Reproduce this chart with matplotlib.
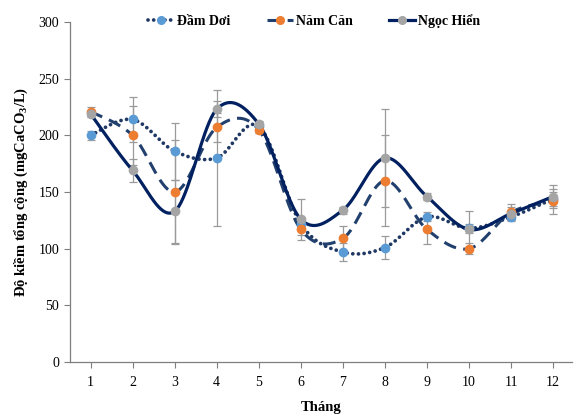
import numpy as np
import matplotlib
matplotlib.use("Agg")
import matplotlib.pyplot as plt
from matplotlib.lines import Line2D

plt.rcParams['font.family'] = ['Liberation Serif', 'DejaVu Serif']
plt.rcParams['mathtext.fontset'] = 'custom'
plt.rcParams['mathtext.rm'] = 'Liberation Serif:bold'
plt.rcParams['mathtext.bf'] = 'Liberation Serif:bold'

months = list(range(1, 13))
dam_doi = [200, 214, 186, 180, 208, 122, 97, 101, 128, 118, 128, 144]
nam_can = [221, 200, 150, 207, 205, 117, 109, 160, 117, 100, 132, 142]
ngoc_hien = [219, 169, 133, 223, 210, 126, 134, 180, 146, 117, 131, 146]
dam_doi_err = [4, 20, 25, 60, 3, 4, 8, 10, 4, 4, 4, 6]
nam_can_err = [4, 26, 46, 13, 3, 5, 11, 40, 13, 5, 7, 11]
ngoc_hien_err = [3, 10, 28, 7, 3, 18, 3, 43, 3, 16, 6, 10]
labels = ['Đầm Dơi', 'Năm Căn', 'Ngọc Hiển']


def excel_smooth(x, y, n=40):
    x = np.asarray(x, float)
    y = np.asarray(y, float)
    P = np.column_stack([x, y])
    out = [P[0]]
    m = len(P)
    for i in range(m - 1):
        p0 = P[i - 1] if i > 0 else P[i]
        p1 = P[i]
        p2 = P[i + 1]
        p3 = P[i + 2] if i + 2 < m else P[i + 1]
        c1 = p1 + (p2 - p0) / 6.0
        c2 = p2 - (p3 - p1) / 6.0
        t = np.linspace(0, 1, n)[1:, None]
        seg = ((1 - t) ** 3) * p1 + 3 * ((1 - t) ** 2) * t * c1 + 3 * (1 - t) * t ** 2 * c2 + t ** 3 * p2
        out.extend(seg)
    out = np.array(out)
    return out[:, 0], out[:, 1]


fig = plt.figure(figsize=(5.76, 4.18), dpi=100)
ax = fig.add_axes([69.5 / 576, 56 / 418, (572 - 69.5) / 576, 340 / 418])

series = [
    (dam_doi, dam_doi_err, '#1F3864', (0, (0.01, 1.5)), '#5B9BD5', 2.7, 'round'),
    (nam_can, nam_can_err, '#22406E', (0, (4.2, 2.4)), '#ED7D31', 2.2, 'butt'),
    (ngoc_hien, ngoc_hien_err, '#002060', '-', '#A5A5A5', 2.3, 'round'),
]

handles = []
for (vals, err, col, ls, mcol, lw, cap), lab in zip(series, labels):
    ax.errorbar(months, vals, yerr=err, fmt='none', ecolor='#9A9A9A',
                elinewidth=0.9, capsize=3, capthick=0.9, zorder=2)
    sx, sy = excel_smooth(months, vals)
    ax.plot(sx, sy, color=col, lw=lw, linestyle=ls, dash_capstyle=cap,
            solid_capstyle='round', zorder=3)
    ax.plot(months, vals, linestyle='none', marker='o', ms=6,
            color=mcol, mec=mcol, zorder=4)
    handles.append(Line2D([0], [0], color=col, lw=lw, linestyle=ls,
                          dash_capstyle=cap, marker='o', ms=5.5,
                          markerfacecolor=mcol, markeredgecolor=mcol))

ax.set_xlim(0.5, 12.45)
ax.set_ylim(0, 300)
ax.set_xticks(months)
ax.set_yticks(range(0, 301, 50))
for s in ['top', 'right']:
    ax.spines[s].set_visible(False)
for s in ['left', 'bottom']:
    ax.spines[s].set_color('#7F7F7F')
    ax.spines[s].set_linewidth(0.9)
ax.tick_params(axis='both', direction='out', length=4, color='#7F7F7F',
               labelsize=10, width=0.8)
ax.tick_params(axis='x', pad=6)

ax.set_ylabel('Độ kiềm tổng cộng (mgCaCO$_\\mathbf{3}$/L)', fontsize=10.5,
              fontweight='bold', labelpad=6)
ax.set_xlabel('Tháng', fontsize=10.5, fontweight='bold', labelpad=9)

fig.legend(handles, labels, loc='center', bbox_to_anchor=(314 / 576, 1 - 21 / 418),
           ncol=3, frameon=False, prop={'weight': 'bold', 'size': 10},
           handlelength=1.9, columnspacing=2.6, handletextpad=0.2)

fig.savefig('out.png', dpi=100)
